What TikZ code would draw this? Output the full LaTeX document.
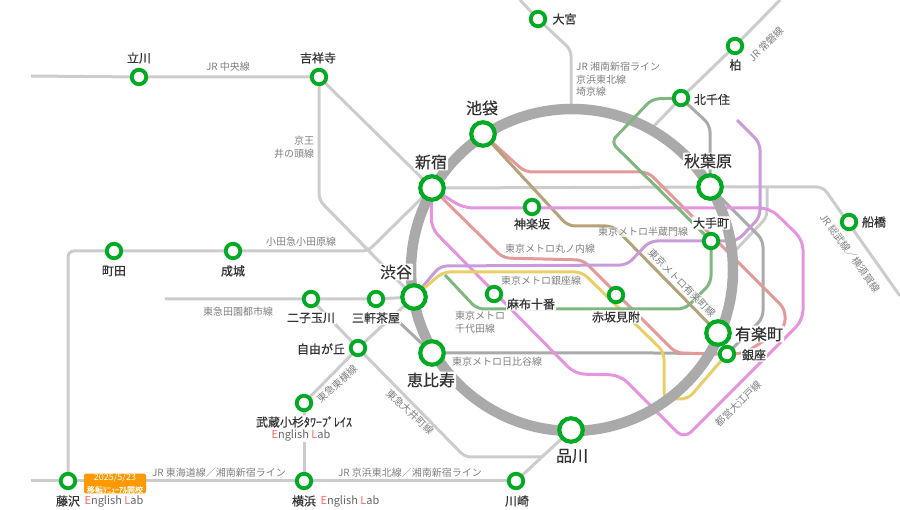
\documentclass[tikz,border=0pt]{standalone}
\usepackage{fontspec}
\setmainfont{Noto Sans CJK JP}
\newfontfamily\cjk{Noto Sans CJK JP}
\newfontfamily\cjkm[FakeBold=0.35]{Noto Sans CJK JP}
\newfontfamily\cjkb[FakeBold=0.6]{Noto Sans CJK JP}
\definecolor{jr}{HTML}{CCCCCC}
\definecolor{ringc}{HTML}{AAAAAA}
\definecolor{hibiya}{HTML}{AAAAAA}
\definecolor{maru}{HTML}{E39A9A}
\definecolor{oedo}{HTML}{E594DF}
\definecolor{hanzo}{HTML}{C99BD8}
\definecolor{ginza}{HTML}{E8CF6A}
\definecolor{chiyo}{HTML}{7FB77E}
\definecolor{yura}{HTML}{B5A27A}
\definecolor{stg}{HTML}{00AA22}
\definecolor{lab}{HTML}{666666}
\definecolor{labr}{HTML}{FF6666}
\definecolor{badge}{HTML}{FF9900}
\pgfdeclarelayer{lines}
\pgfsetlayers{lines,main}
\tikzset{
  big/.style={circle,draw=stg,line width=4.2pt,fill=white,minimum size=23.5pt,inner sep=0pt,outer sep=0pt},
  small/.style={circle,draw=stg,line width=3.8pt,fill=white,minimum size=14.5pt,inner sep=0pt,outer sep=0pt},
  jrl/.style={draw=jr,line width=3pt,rounded corners=6pt},
  sub/.style={line width=3pt,rounded corners=7pt},
  sl/.style={font=\cjkb\fontsize{12}{14}\selectfont,text=black!80,fill=white,inner sep=1pt,rounded corners=1pt},
  bl/.style={font=\cjkm\fontsize{16}{18}\selectfont,text=black!80,fill=white,inner sep=1pt,rounded corners=1pt},
  ll/.style={font=\cjk\fontsize{10}{12.5}\selectfont,text=black!50,inner sep=0pt,fill=white,fill opacity=0.7,text opacity=1},
}
\newcommand{\elab}{{\cjk\fontsize{11}{13}\selectfont\color{labr}E\color{lab}nglish \color{labr}L\color{lab}ab}}
\begin{document}
\begin{tikzpicture}[x=1pt,y=-1pt]
\useasboundingbox (0,0) rectangle (900,510);
% stations
\node[small] (omiya) at (538,19) {};
\node[small] (kashiwa) at (735,46) {};
\node[small] (kitasenju) at (681,98) {};
\node[small] (tachikawa) at (139,77) {};
\node[small] (kichijoji) at (319,77) {};
\node[big] (ikebukuro) at (483,134) {};
\node[big] (shinjuku) at (432,188) {};
\node[big] (akihabara) at (710,187) {};
\node[small] (kagurazaka) at (532,207) {};
\node[small] (otemachi) at (711,241) {};
\node[small] (funabashi) at (849,222) {};
\node[small] (machida) at (114,251) {};
\node[small] (seijo) at (233,251) {};
\node[big] (shibuya) at (414,297) {};
\node[small] (futako) at (311,299) {};
\node[small] (sangen) at (376,299) {};
\node[small] (azabu) at (494,294) {};
\node[small] (akasaka) at (616,295) {};
\node[big] (yurakucho) at (718,333) {};
\node[small] (ginzast) at (727,354) {};
\node[big] (ebisu) at (432,353) {};
\node[small] (jiyu) at (358,348) {};
\node[small] (musashi) at (304,403) {};
\node[big] (shinagawa) at (571,430) {};
\node[small] (fujisawa) at (68,481) {};
\node[small] (yokohama) at (304,481) {};
\node[small] (kawasaki) at (516,481) {};
\coordinate (leftend) at (31,76);
\coordinate (bottomend) at (31,481);
\begin{pgfonlayer}{lines}
% JR and private lines
\draw[jrl] (leftend) -- (tachikawa.center) -- (kichijoji.center);
\draw[jrl] (kichijoji.center) -- (shinjuku.center);
\draw[jrl] (kichijoji.center) -- (319,200) -- (shibuya.center);
\draw[jrl] (fujisawa.center) -- (68,251) -- (machida.center) -- (seijo.center) -- (368,251) -- (shinjuku.center);
\draw[jrl] (165,299) -- (futako.center) -- (sangen.center) -- (shibuya.center);
\draw[jrl] (futako.center) -- (jiyu.center) -- (465,457) -- (542,457);
\draw[jrl] (musashi.center) -- (jiyu.center) -- (shibuya.center);
\draw[jrl] (musashi.center) -- (yokohama.center);
\draw[jrl] (kawasaki.center) -- (shinagawa.center);
\draw[jrl] (520,0) -- (omiya.center) -- (571,50) -- (571,110);
\draw[jrl] (780,0) -- (kashiwa.center) -- (kitasenju.center) -- (653,127);
\draw[jrl] (shinjuku.center) -- (akihabara.center) -- (823,187) -- (900,296);
\draw[jrl] (767,187) -- (767,217) -- (733,253);
\draw[jrl] (bottomend) -- (fujisawa.center) -- (yokohama.center) -- (kawasaki.center);
% Hibiya
\draw[sub,draw=hibiya] (400,323) -- (ebisu.center) -- (660,353) -- (ginzast.center) -- (763,318) -- (763,240) -- (akihabara.center) -- (710,125) -- (kitasenju.center);
% Marunouchi
\draw[sub,draw=maru] (ikebukuro.center) -- (525,172) -- (648,172) -- (785,309) -- (785,327) -- (745,353) -- (ginzast.center) -- (676,353) -- (583,260) -- (503,258) -- (shinjuku.center);
% Yurakucho
\draw[sub,draw=yura] (ikebukuro.center) -- (568,226) -- (613,226) -- (yurakucho.center);
% Oedo
\draw[sub,rounded corners=10pt,draw=oedo] (shinjuku.center) -- (431,228) -- (575,374) -- (620,375) -- (684,439) -- (803,320) -- (803,240) -- (770,208) -- (463,208) -- (shinjuku.center);
% Hanzomon
\draw[sub,draw=hanzo] (737,120) -- (760,143) -- (760,217) -- (737,241) -- (650,241) -- (627,265) -- (440,266) -- (shibuya.center);
% Ginza
\draw[sub,draw=ginza] (shibuya.center) -- (443,272) -- (582,272) -- (664,352) -- (664,399) -- (688,399) -- (ginzast.center);
% Yamanote ring
\draw[draw=ringc,line width=10.5pt] (572,270) circle (161);
% Chiyoda
\draw[sub,draw=chiyo] (kitasenju.center) -- (652,99) -- (611,142) -- (otemachi.center) -- (711,283) -- (685,309) -- (477,309) -- (445,275);
\end{pgfonlayer}
% badge
\node[fill=badge,rounded corners=1.5pt,minimum width=62pt,minimum height=19pt,inner sep=0pt,text=white,align=center] (badgebox) at (115,483.5)
  {\cjk\fontsize{9}{9}\selectfont 2025/5/23\\{\cjkm\fontsize{8}{8}\selectfont 移転ﾘﾆｭｰｱﾙ開校}};
% station labels
\node[sl] (l1) at (564.5,19) {大宮};
\node[sl] (l2) at (735.5,65) {柏};
\node[sl] (l3) at (712,99.5) {北千住};
\node[sl] (l4) at (139,58) {立川};
\node[sl] (l5) at (318,58) {吉祥寺};
\node[bl] (l6) at (482,108) {池袋};
\node[bl] (l7) at (431,162) {新宿};
\node[bl] (l8) at (708,161) {秋葉原};
\node[sl] (l9) at (532,224) {神楽坂};
\node[sl] (l10) at (711,223) {大手町};
\node[sl] (l11) at (874,222) {船橋};
\node[sl] (l12) at (114,271) {町田};
\node[sl] (l13) at (233,271) {成城};
\node[bl] (l14) at (396,272) {渋谷};
\node[sl] (l15) at (311,318) {二子玉川};
\node[sl] (l16) at (376,318) {三軒茶屋};
\node[sl] (l17) at (531,304) {麻布十番};
\node[sl] (l18) at (616,317) {赤坂見附};
\node[bl] (l19) at (759,334) {有楽町};
\node[sl] (l20) at (754,355) {銀座};
\node[bl] (l21) at (431,380) {恵比寿};
\node[sl] (l22) at (321,349) {自由が丘};
\node[sl] (l23) at (304,422) {武蔵小杉ﾀﾜｰﾌﾟﾚｲｽ};
\node[sl,font=\cjk\fontsize{11}{13}\selectfont] (l24) at (301,435) {\elab};
\node[bl] (l25) at (572,456) {品川};
\node[sl] (l26) at (68,501) {藤沢};
\node[sl] (l27) at (114,501) {\elab};
\node[sl] (l28) at (304,501) {横浜};
\node[sl] (l29) at (350,501) {\elab};
\node[sl] (l30) at (517,501) {川崎};
% line labels
\node[ll] (t1) at (228,67) {JR 中央線};
\node[ll,align=right] (t2) at (294,147) {京王\\井の頭線};
\node[ll] (t3) at (301,242) {小田急小田原線};
\node[ll] (t4) at (238,312) {東急田園都市線};
\node[ll,align=left,anchor=north west] (t5) at (576,62) {JR 湘南新宿ライン\\京浜東北線\\埼京線};
\node[ll] (t6) at (550,249) {東京メトロ丸ノ内線};
\node[ll] (t7) at (643,232) {東京メトロ半蔵門線};
\node[ll] (t8) at (541,281) {東京メトロ銀座線};
\node[ll,align=left,anchor=north west] (t9) at (455,311) {東京メトロ\\千代田線};
\node[ll] (t10) at (497,362) {東京メトロ日比谷線};
\node[ll] (t11) at (219,473) {JR 東海道線／湘南新宿ライン};
\node[ll] (t12) at (410,473) {JR 京浜東北線／湘南新宿ライン};
\node[ll,rotate=-45] (t13) at (682,283) {東京メトロ有楽町線};
\node[ll,rotate=45] (t14) at (738,404) {都営大江戸線};
\node[ll,rotate=-54] (t15) at (850,253) {JR 総武線／横須賀線};
\node[ll,rotate=45] (t16) at (766,44) {JR 常磐線};
\node[ll,rotate=42] (t17) at (337,384) {東急東横線};
\node[ll,rotate=-43] (t18) at (410,412) {東急大井町線};
\end{tikzpicture}
\end{document}
